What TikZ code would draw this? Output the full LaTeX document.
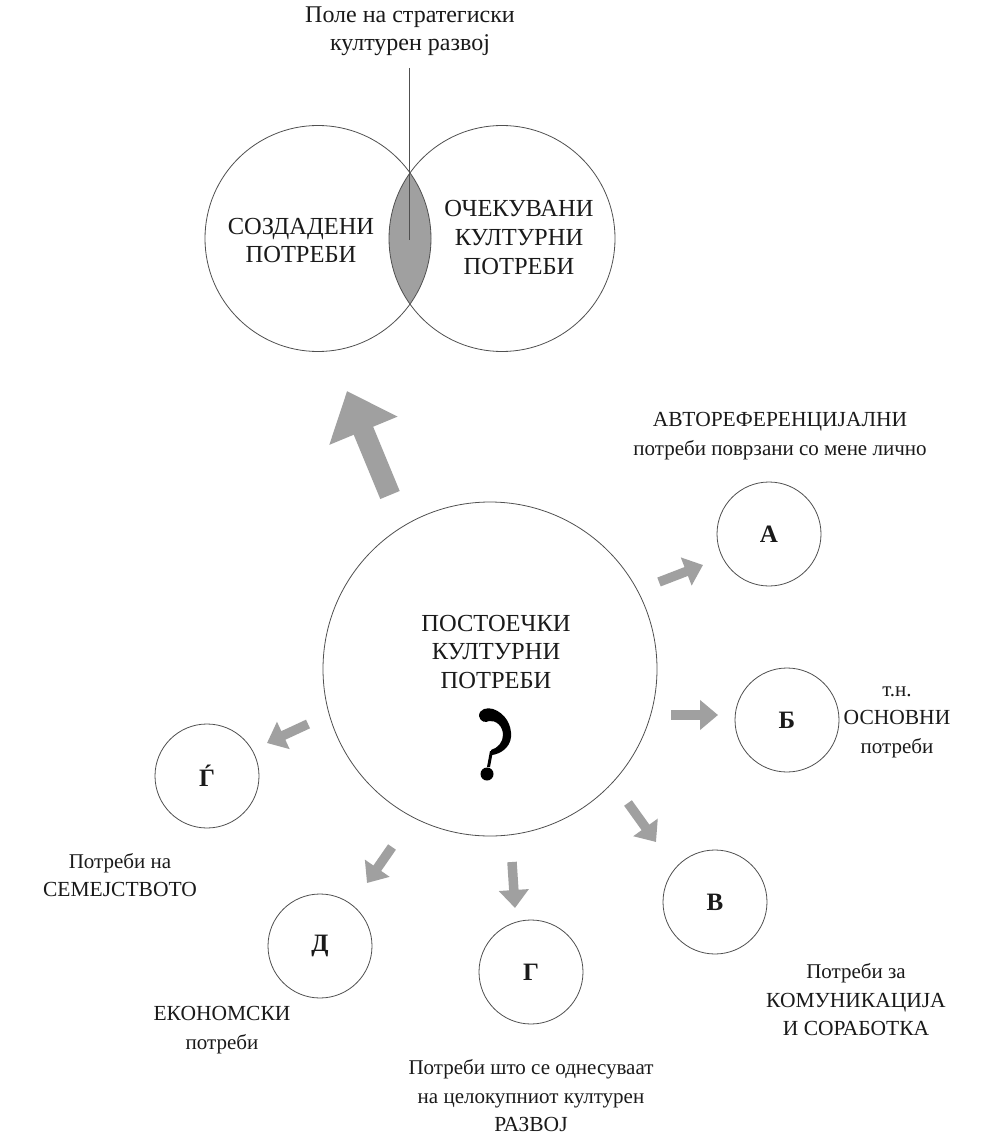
\documentclass[tikz,border=0pt]{standalone}
\usepackage{fontspec}
\setmainfont{Liberation Serif}
\usetikzlibrary{arrows.meta}
\definecolor{arr}{HTML}{A0A0A0}
\definecolor{ln}{HTML}{505050}
\definecolor{tx}{HTML}{1A1A1A}
\begin{document}
\begin{tikzpicture}[x=1pt,y=-1pt,
  ring/.style={circle,draw=ln,line width=0.8pt,inner sep=0pt},
  capt/.style={font=\fontsize{24.5}{28.5}\selectfont,text=tx,align=center,inner sep=0pt},
  lowt/.style={font=\fontsize{21}{28.5}\selectfont,text=tx,align=center,inner sep=0pt},
  letter/.style={font=\fontsize{25}{28}\selectfont\bfseries,text=tx,inner sep=0pt},
  fatarrow/.style={draw=arr,line width=#1,line cap=butt},
]
\useasboundingbox (0,0) rectangle (987,1139);
\fill[white] (0,0) rectangle (987,1139);

% Venn diagram
\begin{scope}
  \clip (318,238.5) circle[radius=113pt];
  \fill[arr] (502,238.5) circle[radius=113pt];
\end{scope}
\node[ring,minimum size=226pt] (venL) at (318,238.5) {};
\node[ring,minimum size=226pt] (venR) at (502,238.5) {};
\node[lowt,font=\fontsize{24}{28}\selectfont] (field) at (410,31) {Поле на стратегиски\\културен развој};
\coordinate (lineTop) at (409,68);
\coordinate (lineBot) at (409,240);
\draw[ln,line width=0.8pt] (lineTop) -- (lineBot);
\node[capt,font=\fontsize{24.5}{28}\selectfont] (created) at (301,241) {СОЗДАДЕНИ\\ПОТРЕБИ};
\node[capt,font=\fontsize{24.5}{29}\selectfont] (expected) at (519,238) {ОЧЕКУВАНИ\\КУЛТУРНИ\\ПОТРЕБИ};

% main circle
\node[ring,minimum size=334pt] (main) at (490,669) {};
\node[capt] (mainlbl) at (496,652) {ПОСТОЕЧКИ\\КУЛТУРНИ\\ПОТРЕБИ};
% question mark
\fill[black] (479,716) .. controls (479,709) and (487,707) .. (493,709)
  .. controls (505,713) and (512,725) .. (511,737)
  .. controls (510,748) and (500,754) .. (492,755)
  -- (491,750) .. controls (498,748) and (503,742) .. (503,735)
  .. controls (503,726) and (496,720) .. (489,721)
  .. controls (486,723) and (480,722) .. (479,716) -- cycle;
\fill[black] (490,751) -- (493,751) -- (490,767) -- (487,767) -- cycle;
\fill[black] (487,774) circle[radius=6.5pt];

% big arrow
\coordinate (bigT) at (390,495);
\coordinate (bigH) at (347,391);
\draw[fatarrow=21pt,-{Triangle[width=71pt,length=43pt]}] (bigT) -- (bigH);

% small circles
\node[ring,minimum size=104pt] (a) at (769,534) {};
\node[letter] at (a) {А};
\node[ring,minimum size=104pt] (b) at (787,720) {};
\node[letter] at (b) {Б};
\node[ring,minimum size=104pt] (v) at (715,902) {};
\node[letter] at (v) {В};
\node[ring,minimum size=104pt] (g) at (531,972) {};
\node[letter] at (g) {Г};
\node[ring,minimum size=104pt] (d) at (320,946) {};
\node[letter] at (d) {Д};
\node[ring,minimum size=104pt] (gj) at (207,776) {};
\node[letter] at (gj) {Ѓ};

% small arrows
\coordinate (aT) at (659,582);  \coordinate (aH) at (703,565);
\coordinate (bT) at (671,715);  \coordinate (bH) at (718,715);
\coordinate (vT) at (628,803);  \coordinate (vH) at (656,842);
\coordinate (gT) at (512,862);  \coordinate (gH) at (515,908);
\coordinate (dT) at (392,847);  \coordinate (dH) at (367,883);
\coordinate (jT) at (308,724);  \coordinate (jH) at (267,743);
\foreach \t/\h in {aT/aH,bT/bH,vT/vH,gT/gH,dT/dH,jT/jH}
  \draw[fatarrow=9.5pt,-{Triangle[width=29pt,length=18pt]}] (\t) -- (\h);

% labels
\node[lowt,font=\fontsize{21.5}{28.5}\selectfont] (alb) at (780,436) {АВТОРЕФЕРЕНЦИЈАЛНИ\\{\fontsize{21}{28.5}\selectfont потреби поврзани со мене лично}};
\node[lowt] (blb) at (897,722) {т.н.\\{\fontsize{21.5}{28.5}\selectfont ОСНОВНИ}\\потреби};
\node[lowt,font=\fontsize{21.5}{28.5}\selectfont] (vlb) at (856,1000) {{\fontsize{21}{28.5}\selectfont Потреби за}\\КОМУНИКАЦИЈА\\И СОРАБОТКА};
\node[lowt] (glb) at (531,1096) {Потреби што се однесуваат\\на целокупниот културен\\{\fontsize{21.5}{28.5}\selectfont РАЗВОЈ}};
\node[lowt] (dlb) at (222,1030) {{\fontsize{21.5}{28.5}\selectfont ЕКОНОМСКИ}\\потреби};
\node[lowt] (jlb) at (120,875) {Потреби на\\{\fontsize{21.5}{28.5}\selectfont СЕМЕЈСТВОТО}};
\end{tikzpicture}
\end{document}
